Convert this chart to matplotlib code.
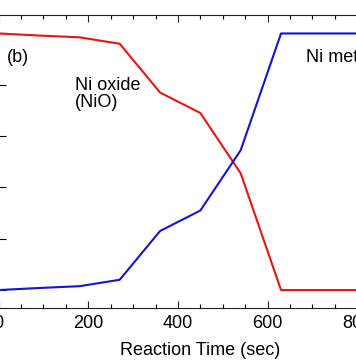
import matplotlib
matplotlib.use("Agg")
import matplotlib.pyplot as plt
from matplotlib.ticker import MultipleLocator

plt.rcParams['font.family'] = ['Liberation Sans', 'DejaVu Sans']

# Data (reaction time in sec, fraction in %)
time_sec = [0, 90, 180, 270, 360, 450, 540, 630, 720, 810, 900]
ni_oxide = [100, 99.2, 98.5, 96, 77, 69, 45.5, 0, 0, 0, 0]
ni_metal = [0, 0.8, 1.5, 4, 23, 31, 54.5, 100, 100, 100, 100]

x_major = [0, 200, 400, 600, 800]
x_labels = ["0", "200", "400", "600", "800"]
y_major = [0, 20, 40, 60, 80, 100]

fig = plt.figure(figsize=(3.56, 3.64), dpi=100)
ax = fig.add_axes([-0.0037, 0.1538, 1.133, 0.805])

ax.plot(time_sec, ni_oxide, color='#e61414', lw=1.5)
ax.plot(time_sec, ni_metal, color='#1414d2', lw=1.5)

ax.set_xlim(0, 900)
ax.set_ylim(-7, 107.2)
ax.set_xticks(x_major)
ax.set_xticklabels(x_labels)
ax.xaxis.set_minor_locator(MultipleLocator(50))
ax.set_yticks(y_major)

ax.tick_params(axis='x', which='major', direction='in', length=5.2, width=0.8,
               top=True, bottom=True, labelsize=13, pad=5, colors='#222222')
ax.tick_params(axis='x', which='minor', direction='in', length=3, width=0.8,
               top=True, bottom=True)
ax.tick_params(axis='y', which='major', direction='in', length=5, width=0.8,
               left=True, right=True, labelleft=False)
ax.tick_params(labelcolor='black')
for s in ax.spines.values():
    s.set_linewidth(0.8)
    s.set_color('#222222')

ax.set_xlabel("Reaction Time (sec)", fontsize=13, labelpad=7)

ax.text(18.5, 90.5, "(b)", fontsize=13, va='center', ha='left')
ax.text(170, 79.6, "Ni oxide", fontsize=13, va='center', ha='left')
ax.text(170, 73.0, "(NiO)", fontsize=13, va='center', ha='left')
ax.text(685, 90.5, "Ni metal", fontsize=13, va='center', ha='left')

fig.savefig("out.png", dpi=100)
